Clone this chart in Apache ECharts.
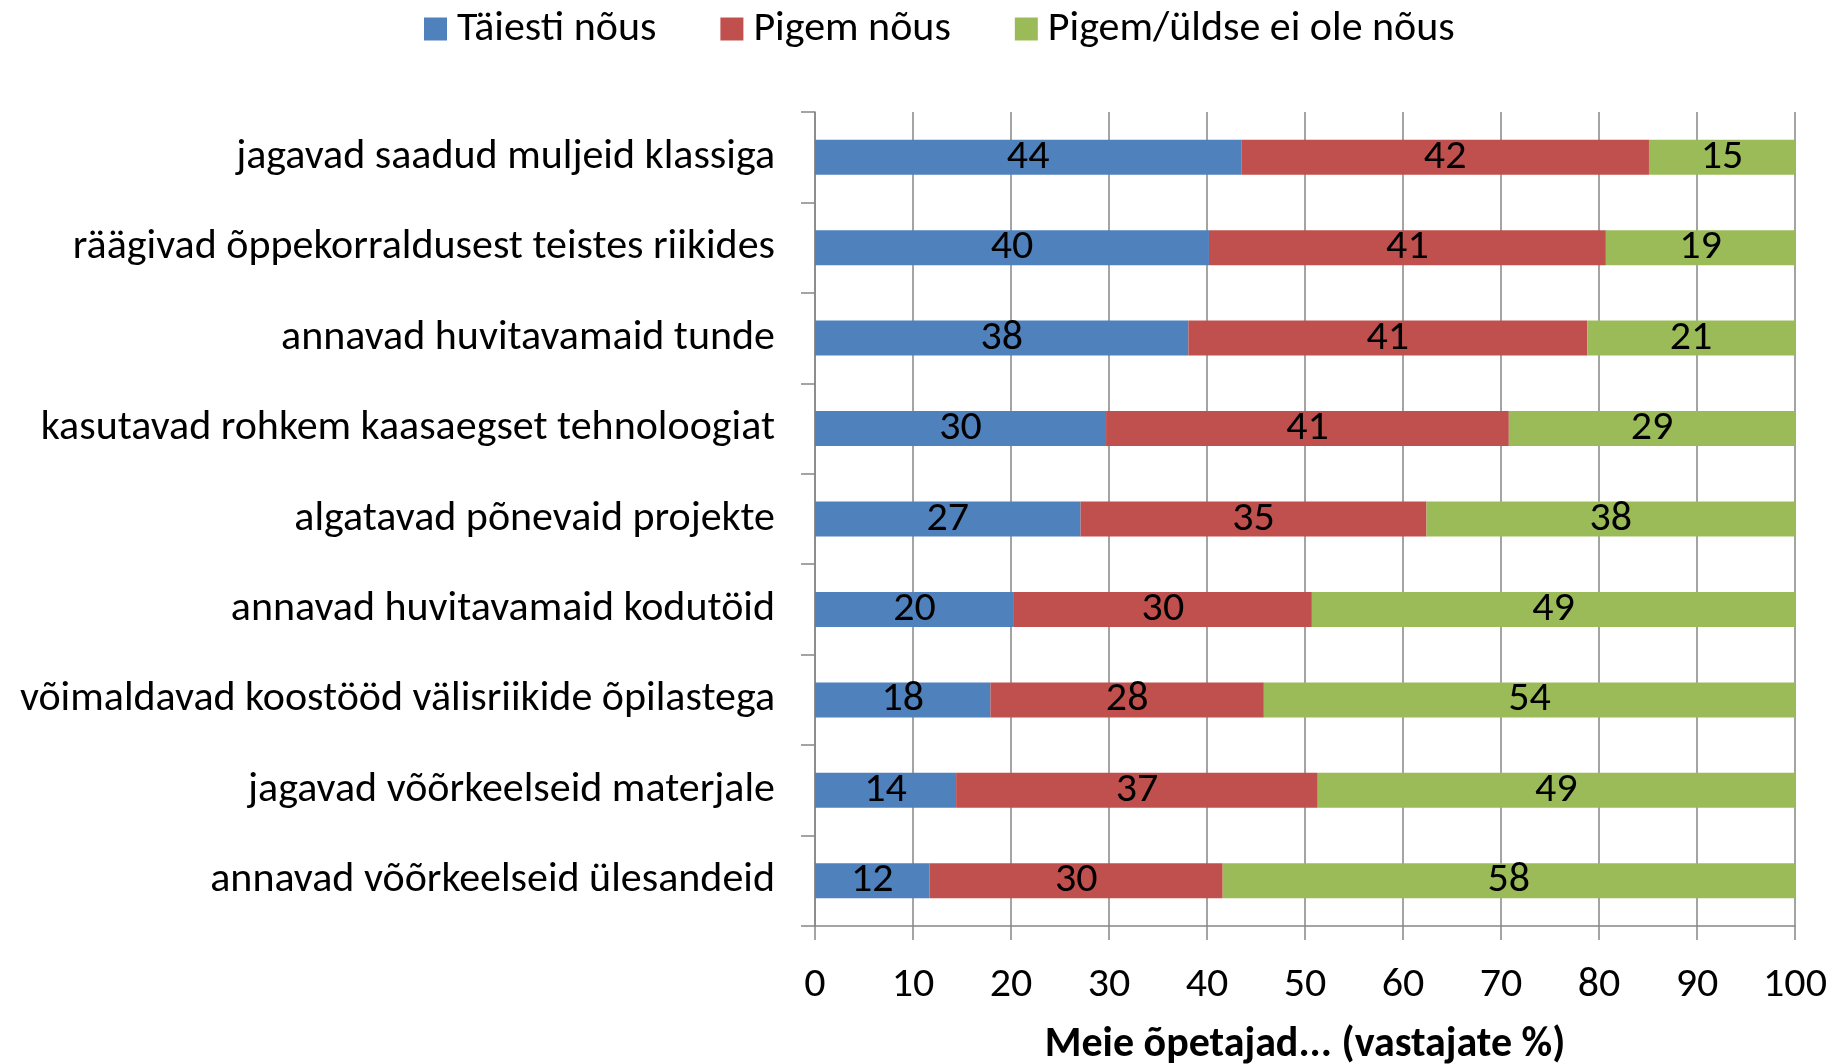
<!DOCTYPE html>
<html lang="et">
<head>
  <meta charset="UTF-8">
  <title>Meie õpetajad</title>
  <style>
    html, body {
      margin: 0;
      padding: 0;
      width: 100%;
      height: 100%;
      background: #fff;
    }
    .main {
      width: 1841px;
      height: 1064px;
    }
  </style>
</head>
<body>
<div class="main" id="main"></div>
<script src="https://cdn.jsdelivr.net/npm/echarts@6/dist/echarts.min.js"></script>
<script>
  // categories, top to bottom as in the picture
  var categories = [
    'jagavad saadud muljeid klassiga',
    'räägivad õppekorraldusest teistes riikides',
    'annavad huvitavamaid tunde',
    'kasutavad rohkem kaasaegset tehnoloogiat',
    'algatavad põnevaid projekte',
    'annavad huvitavamaid kodutöid',
    'võimaldavad koostööd välisriikide õpilastega',
    'jagavad võõrkeelseid materjale',
    'annavad võõrkeelseid ülesandeid'
  ];

  var seriesNames = ['Täiesti nõus', 'Pigem nõus', 'Pigem/üldse ei ole nõus'];

  // bar lengths (labels show them rounded)
  var taiestiNous = [43.5, 40.2, 38.1, 29.7, 27.1, 20.3, 17.9, 14.4, 11.7];
  var pigemNous = [41.6, 40.5, 40.7, 41.1, 35.3, 30.4, 27.9, 36.9, 29.9];
  var eiOleNous = [14.9, 19.3, 21.2, 29.2, 37.6, 49.3, 54.2, 48.7, 58.4];

  var colors = ['#4F81BD', '#C0504D', '#9BBB59'];
  var fontFamily = 'Carlito, Lato, sans-serif';
  var fontSize = 42;

  var chart = echarts.init(document.getElementById('main'));

  function makeSeries(name, data, color) {
    return {
      name: name,
      type: 'bar',
      stack: 'total',
      barWidth: 35,
      data: data,
      itemStyle: { color: color },
      label: {
        show: true,
        position: 'inside',
        color: '#000',
        fontFamily: fontFamily,
        fontSize: fontSize,
        formatter: function(p) { return Math.round(p.value); }
      }
    };
  }

  var option = {
    animation: false,
    textStyle: { fontFamily: fontFamily },
    legend: {
      data: seriesNames,
      top: 3,
      left: 419,
      icon: 'rect',
      itemWidth: 23,
      itemHeight: 23,
      itemGap: 64,
      textStyle: { fontFamily: fontFamily, fontSize: fontSize, color: '#000', padding: [0, 0, 0, 5] }
    },
    grid: {
      left: 815,
      right: 46,
      top: 112,
      bottom: 138,
      outerBoundsMode: 'none'
    },
    xAxis: {
      type: 'value',
      min: 0,
      max: 100,
      interval: 10,
      name: 'Meie õpetajad... (vastajate %)',
      nameLocation: 'middle',
      nameGap: 98,
      nameTextStyle: {
        fontFamily: fontFamily,
        fontSize: fontSize,
        fontWeight: 'bold',
        color: '#000'
      },
      axisLine: { show: true, lineStyle: { color: '#868686', width: 1.5 } },
      axisTick: { show: true, length: 14, lineStyle: { color: '#868686', width: 1.5 } },
      axisLabel: { margin: 38, fontSize: fontSize, color: '#000', fontFamily: fontFamily },
      splitLine: { show: true, lineStyle: { color: '#868686', width: 1.5 } }
    },
    yAxis: {
      type: 'category',
      inverse: true,
      data: categories,
      axisLine: { show: true, lineStyle: { color: '#868686', width: 1.5 } },
      axisTick: { show: true, length: 14, lineStyle: { color: '#868686', width: 1.5 } },
      axisLabel: { margin: 40, fontSize: fontSize, color: '#000', fontFamily: fontFamily }
    },
    series: [
      makeSeries(seriesNames[0], taiestiNous, colors[0]),
      makeSeries(seriesNames[1], pigemNous, colors[1]),
      makeSeries(seriesNames[2], eiOleNous, colors[2])
    ]
  };

  chart.setOption(option);
</script>
</body>
</html>
